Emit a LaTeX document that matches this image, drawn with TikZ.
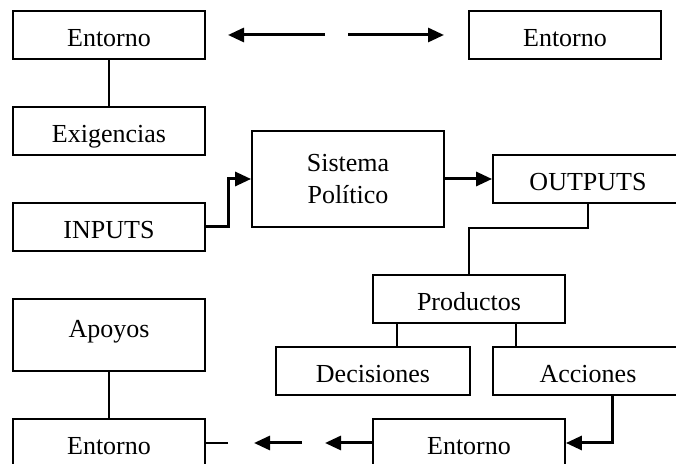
\documentclass[tikz,border=0pt]{standalone}
\usepackage{fontspec}
\setmainfont{Liberation Serif}
\usetikzlibrary{arrows.meta,calc}

\begin{document}
\begin{tikzpicture}[x=0.5pt, y=-0.5pt,
    font=\fontsize{13pt}{16pt}\selectfont,
    box/.style={draw, line width=0.9pt, rectangle, minimum width=96pt, minimum height=24pt, inner sep=0pt, align=center, text height=11.6pt, text depth=0pt},
    link/.style={line width=0.75pt},
    arr/.style={line width=1.5pt, -{Triangle[length=8pt, width=7pt]}}]

    \useasboundingbox (0,0) rectangle (676,464);

    % Nodes
    \node[box] (entA) at (109,35) {Entorno};
    \node[box] (entB) at (565,35) {Entorno};
    \node[box] (exig) at (109,131) {Exigencias};
    \node[box, minimum height=48pt, text height=, text depth=] (sist) at (348,179) {Sistema\\Político};
    \node[box] (inp) at (109,227) {INPUTS};
    \node[box, minimum width=95pt] (outp) at (588,179) {OUTPUTS};
    \node[box] (prod) at (469,299) {Productos};
    \node[box, minimum height=36pt, text height=9pt, text depth=6.4pt] (apoy) at (109,335) {Apoyos};
    \node[box, minimum width=97pt] (decis) at (373,371) {Decisiones};
    \node[box, minimum width=95pt] (acc) at (588,371) {Acciones};
    \node[box] (entC) at (469,443) {Entorno};
    \node[box] (entD) at (109,443) {Entorno};

    % free ends of the broken arrows
    \coordinate (t1) at (228,35);
    \coordinate (t2) at (325,35);
    \coordinate (t3) at (348,35);
    \coordinate (t4) at (444,35);
    \coordinate (b1) at (325,443);
    \coordinate (b2) at (302,443);
    \coordinate (b3) at (254,443);
    \coordinate (b4) at (228,443);

    % Lines
    \draw[link] (entA) -- (exig);
    \draw[arr] (t2) -- (t1);
    \draw[arr] (t3) -- (t4);

    \draw[arr] (inp.east) -- ++(23,0) |- (sist.west);
    \draw[arr] (sist.east) -- (outp.west);

    \draw[link] (outp.south) -- ++(0,24) -| (prod.north);
    \draw[link] ($(prod.south)+(-72,0)$) coordinate (p1) -- (p1 |- decis.north);
    \draw[link] ($(prod.south)+(47,0)$) coordinate (p2) -- (p2 |- acc.north);

    \draw[arr] ($(acc.south)+(24,0)$) |- (entC.east);
    \draw[arr] (entC.west) -- (b1);
    \draw[arr] (b2) -- (b3);
    \draw[link] (b4) -- (entD.east);

    \draw[link] (apoy) -- (entD);

\end{tikzpicture}
\end{document}
